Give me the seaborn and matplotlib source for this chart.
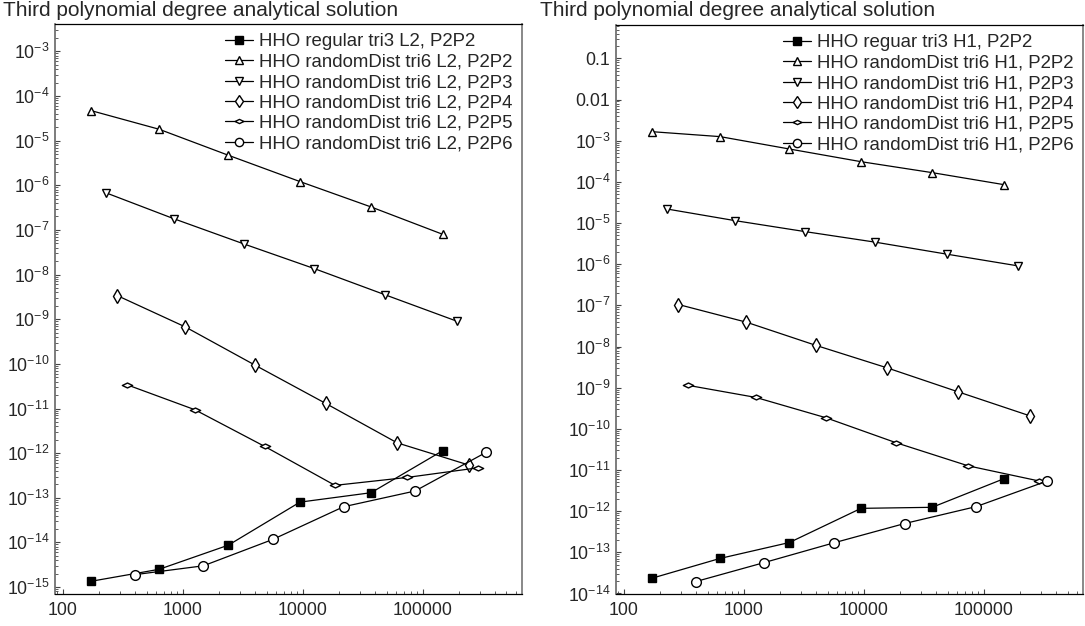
import numpy as np
import matplotlib.pyplot as plt
import seaborn as sns
from matplotlib.path import Path
from matplotlib.ticker import FixedLocator, FuncFormatter, NullFormatter

sns.set_theme(style="ticks", context="paper")
plt.rcParams["font.family"] = ["Liberation Sans", "DejaVu Sans"]
plt.rcParams["mathtext.fontset"] = "custom"
plt.rcParams["mathtext.rm"] = "Liberation Sans"
plt.rcParams["axes.unicode_minus"] = False

# -------------------------
# Data
# -------------------------
# number of unknowns per mesh, one array per scheme
n_p2p2 = [172, 634, 2400, 9490, 37150, 146600]
n_p2p3 = [228, 838, 3240, 12500, 49000, 193600]
n_p2p4 = [285, 1052, 4020, 15560, 61400, 243800]
n_p2p5 = [343, 1260, 4810, 18590, 74300, 290000]
n_p2p6 = [399, 1486, 5640, 21900, 86500, 338000]

# L2 errors (left panel)
reg_l2 = [1.35e-15, 2.5e-15, 8.7e-15, 8.0e-14, 1.3e-13, 1.13e-12]
p2p2_l2 = [4.7e-5, 1.8e-5, 4.7e-6, 1.21e-6, 3.27e-7, 8.0e-8]
p2p3_l2 = [6.8e-7, 1.79e-7, 4.84e-8, 1.36e-8, 3.5e-9, 9.0e-10]
p2p4_l2 = [3.37e-9, 6.7e-10, 9.3e-11, 1.3e-11, 1.7e-12, 5.4e-13]
p2p5_l2 = [3.4e-11, 9.4e-12, 1.42e-12, 1.9e-13, 2.86e-13, 4.7e-13]
p2p6_l2 = [1.9e-15, 3.0e-15, 1.17e-14, 6.3e-14, 1.42e-13, 1.04e-12]

# H1 errors (right panel)
reg_h1 = [2.35e-14, 7.1e-14, 1.73e-13, 1.17e-12, 1.24e-12, 6.1e-12]
p2p2_h1 = [1.66e-3, 1.26e-3, 6.3e-4, 3.1e-4, 1.68e-4, 8.6e-5]
p2p3_h1 = [2.2e-5, 1.15e-5, 6.2e-6, 3.43e-6, 1.76e-6, 9.1e-7]
p2p4_h1 = [1.05e-7, 3.9e-8, 1.06e-8, 3.05e-9, 7.9e-10, 2.06e-10]
p2p5_h1 = [1.14e-9, 5.8e-10, 1.87e-10, 4.6e-11, 1.26e-11, 5.4e-12]
p2p6_h1 = [1.95e-14, 5.65e-14, 1.7e-13, 5.0e-13, 1.29e-12, 5.4e-12]

labels_l2 = [
    "HHO regular tri3 L2, P2P2",
    "HHO randomDist tri6 L2, P2P2",
    "HHO randomDist tri6 L2, P2P3",
    "HHO randomDist tri6 L2, P2P4",
    "HHO randomDist tri6 L2, P2P5",
    "HHO randomDist tri6 L2, P2P6",
]
labels_h1 = [
    "HHO reguar tri3 H1, P2P2",
    "HHO randomDist tri6 H1, P2P2",
    "HHO randomDist tri6 H1, P2P3",
    "HHO randomDist tri6 H1, P2P4",
    "HHO randomDist tri6 H1, P2P5",
    "HHO randomDist tri6 H1, P2P6",
]
title = "Third polynomial degree analytical solution"

# flat diamond for P2P5
flat_diamond = Path([(-1, 0), (0, 0.48), (1, 0), (0, -0.48), (-1, 0)],
                    [Path.MOVETO, Path.LINETO, Path.LINETO, Path.LINETO, Path.CLOSEPOLY])

# marker, size, face colour
styles = [
    ("s", 6.2, "black"),
    ("^", 6.2, "white"),
    ("v", 6.2, "white"),
    ("d", 7.2, "white"),
    (flat_diamond, 7.4, "white"),
    ("o", 7.0, "white"),
]


def y_label(v, pos):
    e = int(round(np.log10(v)))
    if e == -1:
        return "0.1"
    if e == -2:
        return "0.01"
    return r"$\mathdefault{10^{%d}}$" % e


def x_label(v, pos):
    return "%d" % round(v)


def log_ticks(lo, hi):
    # decades and 2..9 sub-ticks that fall inside [lo, hi]
    e0, e1 = int(np.floor(np.log10(lo))), int(np.ceil(np.log10(hi)))
    major = [10.0 ** e for e in range(e0, e1 + 1) if lo <= 10.0 ** e <= hi]
    minor = [m * 10.0 ** e for e in range(e0, e1 + 1) for m in range(2, 10)
             if lo <= m * 10.0 ** e <= hi]
    return major, minor


def draw_panel(ax, xs, ys, labels, xlim, ylim):
    ax.set(xscale="log", yscale="log")
    for x, y, label, (marker, ms, face) in zip(xs, ys, labels, styles):
        sns.lineplot(
            x=x, y=y, ax=ax,
            color="black", linewidth=0.9,
            marker=marker, markersize=ms,
            markerfacecolor=face, markeredgecolor="black",
            markeredgewidth=1.0,
            estimator=None, sort=False,
            label=label,
        )

    ax.set_xlim(*xlim)
    ax.set_ylim(*ylim)

    xmaj, xmin = log_ticks(*xlim)
    ymaj, ymin = log_ticks(*ylim)
    ax.xaxis.set_major_locator(FixedLocator(xmaj))
    ax.xaxis.set_minor_locator(FixedLocator(xmin))
    ax.xaxis.set_major_formatter(FuncFormatter(x_label))
    ax.xaxis.set_minor_formatter(NullFormatter())
    ax.yaxis.set_major_locator(FixedLocator(ymaj))
    ax.yaxis.set_minor_locator(FixedLocator(ymin))
    ax.yaxis.set_major_formatter(FuncFormatter(y_label))
    ax.yaxis.set_minor_formatter(NullFormatter())

    ax.tick_params(which="both", direction="in", labelsize=12.8,
                   color="#444444", top=False, right=False)
    ax.tick_params(axis="y", pad=4)
    ax.tick_params(axis="x", pad=6)
    ax.tick_params(which="major", length=3.5, width=0.8)
    ax.tick_params(which="minor", length=2, width=0.6)

    ax.spines["left"].set_color("#666666")
    ax.spines["left"].set_linewidth(1.2)
    ax.spines["right"].set_color("#888888")
    ax.spines["right"].set_linewidth(1.4)
    for side in ["top", "bottom"]:
        ax.spines[side].set_color("black")
        ax.spines[side].set_linewidth(0.9)

    ax.set_xlabel("")
    ax.set_ylabel("")
    ax.legend(
        loc="upper right", bbox_to_anchor=(1.0, 1.0),
        frameon=False, fontsize=13.4, markerscale=0.85,
        handlelength=1.5, handletextpad=0.3,
        labelspacing=0.18, borderaxespad=0.2, borderpad=0.3,
    )


fig = plt.figure(figsize=(10.85, 6.26), dpi=100)

ax_l2 = fig.add_axes([0.0507, 0.0511, 0.4301, 0.9106])
ax_h1 = fig.add_axes([0.5677, 0.0511, 0.4303, 0.9090])

draw_panel(
    ax_l2,
    [n_p2p2, n_p2p2, n_p2p3, n_p2p4, n_p2p5, n_p2p6],
    [reg_l2, p2p2_l2, p2p3_l2, p2p4_l2, p2p5_l2, p2p6_l2],
    labels_l2, (86, 670000), (7.0e-16, 4.1e-3),
)
draw_panel(
    ax_h1,
    [n_p2p2, n_p2p2, n_p2p3, n_p2p4, n_p2p5, n_p2p6],
    [reg_h1, p2p2_h1, p2p3_h1, p2p4_h1, p2p5_h1, p2p6_h1],
    labels_h1, (86, 670000), (0.97e-14, 0.65),
)

fig.text(3 / 1085, 1 - 11 / 626, title, ha="left", va="center", fontsize=15)
fig.text(540 / 1085, 1 - 11 / 626, title, ha="left", va="center", fontsize=15)

fig.savefig("out.png", dpi=100)
plt.close(fig)
